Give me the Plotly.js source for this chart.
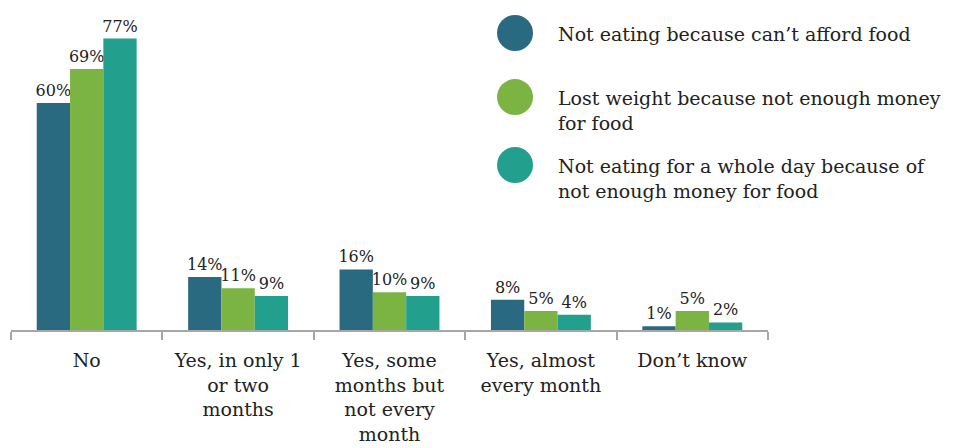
<!DOCTYPE html>
<html><head><meta charset="utf-8">
<script src="https://cdn.plot.ly/plotly-3.0.1.min.js"></script>
<style>html,body{margin:0;padding:0;background:#fff}</style>
</head><body>
<div id="chart" style="width:953px;height:448px"></div>
<script>
const categories = ["No", "Yes, in only 1<br>or two<br>months", "Yes, some<br>months but<br>not every<br>month", "Yes, almost<br>every month", "Don’t know"];
const seriesNames = ["Not eating because can’t afford food", "Lost weight because not enough money<br>for food", "Not eating for a whole day because of<br>not enough money for food"];
const cantAfford = [60, 14, 16, 8, 1];
const lostWeight = [69, 11, 10, 5, 5];
const wholeDay = [77, 9, 9, 4, 2];
const colors = ["#296A80", "#7BB443", "#23A08D"];
const values = [cantAfford, lostWeight, wholeDay];

const font = "DejaVu Serif, Liberation Serif, serif";
const traces = values.map((v, i) => ({
  type: "bar",
  x: categories,
  y: v,
  name: seriesNames[i],
  marker: {color: colors[i]},
  text: v.map(d => d + "%"),
  textposition: "outside",
  constraintext: "none",
  textfont: {family: font, size: 16, color: "#222"},
  cliponaxis: false,
  showlegend: false
}));

const legendY = [0.9, 0.706, 0.5];
const shapes = [], annotations = [];
seriesNames.forEach((n, i) => {
  shapes.push({type: "circle", xref: "paper", yref: "paper", xsizemode: "pixel", ysizemode: "pixel",
    xanchor: 0.6658, yanchor: legendY[i], x0: -18, x1: 18, y0: -18, y1: 18,
    fillcolor: colors[i], line: {width: 0}});
  annotations.push({xref: "paper", yref: "paper", x: 0.72, y: legendY[i] + 0.036, xanchor: "left", yanchor: "top",
    align: "left", text: n, showarrow: false, font: {family: font, size: 19, color: "#222"}});
});

const layout = {
  width: 953, height: 448,
  margin: {l: 11, r: 185, t: 0, b: 118},
  paper_bgcolor: "#fff", plot_bgcolor: "#fff",
  barmode: "group", bargap: 0.34, bargroupgap: 0,
  font: {family: font, size: 19, color: "#222"},
  xaxis: {type: "category", tickson: "boundaries", ticks: "outside", ticklen: 8, tickcolor: "#a6a6a6", tickwidth: 2,
    ticklabelstandoff: 12,
    showline: true, linecolor: "#a6a6a6", linewidth: 2, tickfont: {family: font, size: 19, color: "#222"}, fixedrange: true},
  yaxis: {range: [0, 87.2], visible: false, showgrid: false, zeroline: false, fixedrange: true},
  shapes: shapes, annotations: annotations
};
Plotly.newPlot("chart", traces, layout, {displayModeBar: false, staticPlot: true});
</script>
</body></html>
